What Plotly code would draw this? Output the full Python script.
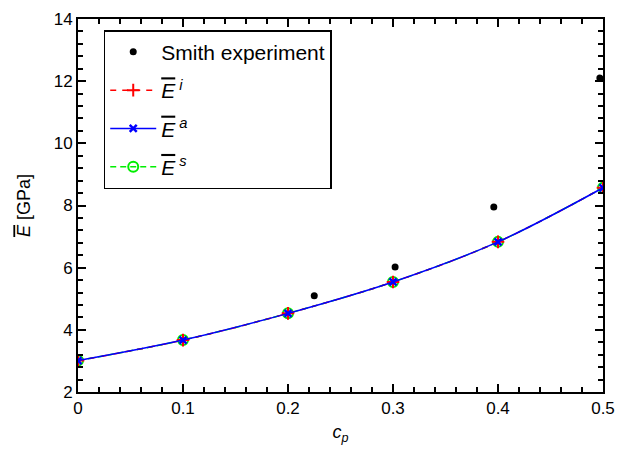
import plotly.graph_objects as go

# Smith experimental data
cp_smith = [0.225, 0.302, 0.396, 0.497]
E_smith = [5.1, 6.02, 7.95, 12.1]

# Model predictions at sampled particle fractions
cp_model = [0.0, 0.1, 0.2, 0.3, 0.4, 0.5]
E_i = [3.01, 3.67, 4.53, 5.54, 6.83, 8.57]
E_a = [3.01, 3.67, 4.53, 5.54, 6.83, 8.57]
E_s = [3.01, 3.67, 4.53, 5.54, 6.83, 8.57]

x_range = [0, 0.5]
y_range = [2, 14]
x_step, y_step = 0.1, 2

FONT = "Liberation Sans, Arial, sans-serif"
EBAR = '<span style="text-decoration:overline"><i>E</i></span>'

fig = go.Figure()

fig.add_trace(go.Scatter(
    x=cp_smith, y=E_smith, mode="markers", name="Smith experiment",
    marker=dict(symbol="circle", size=7, color="black"),
    legendgroup="g0", legendrank=1,
))
fig.add_trace(go.Scatter(
    x=cp_model, y=E_s, mode="lines+markers",
    name=EBAR + "<sup><i> s</i></sup>",
    line=dict(color="#00ee00", width=1.5, dash="6px,4px", shape="spline"),
    marker=dict(symbol="circle-open", size=10, color="#00ee00", line=dict(width=2)),
    legendgroup="g3", legendrank=4,
))
fig.add_trace(go.Scatter(
    x=cp_model, y=E_i, mode="lines+markers",
    name=EBAR + "<sup><i> i</i></sup>",
    line=dict(color="#ff0000", width=1.5, dash="6px,6px", shape="spline"),
    marker=dict(symbol="cross-thin-open", size=9, color="#ff0000", line=dict(width=2, color="#ff0000")),
    legendgroup="g1", legendrank=2,
))
fig.add_trace(go.Scatter(
    x=cp_model, y=E_a, mode="lines+markers",
    name=EBAR + "<sup><i> a</i></sup>",
    line=dict(color="#0000ff", width=1.5, shape="spline"),
    marker=dict(symbol="x-thin-open", size=7, color="#0000ff", line=dict(width=2.5, color="#0000ff")),
    legendgroup="g2", legendrank=3,
))

fig.update_xaxes(
    range=x_range, tickmode="linear", tick0=0, dtick=x_step,
    ticks="inside", ticklen=8, tickwidth=1.5, tickcolor="#000000",
    minor=dict(ticks="inside", ticklen=5, tickwidth=1.5, tickcolor="#000000", dtick=0.02, tick0=0, showgrid=False),
    showline=True, linecolor="black", linewidth=2, mirror="allticks",
    showgrid=False, zeroline=False,
    tickfont=dict(family=FONT, size=17, color="black"),
    title=dict(text="<i>c<sub>p</sub></i>", font=dict(family=FONT, size=18, color="black"), standoff=8),
)
fig.update_yaxes(
    range=y_range, tickmode="linear", tick0=2, dtick=y_step,
    ticks="inside", ticklen=8, tickwidth=1.5, tickcolor="#000000",
    minor=dict(ticks="inside", ticklen=5, tickwidth=1.5, tickcolor="#000000", dtick=0.4, tick0=2, showgrid=False),
    showline=True, linecolor="black", linewidth=2, mirror="allticks",
    showgrid=False, zeroline=False,
    tickfont=dict(family=FONT, size=17, color="black"),
    title=dict(text=EBAR + " [GPa]", font=dict(family=FONT, size=18, color="black"), standoff=18),
)

fig.update_layout(
    width=625, height=456,
    margin=dict(l=78, r=15, t=10, b=64),
    plot_bgcolor="white", paper_bgcolor="white",
    font=dict(family=FONT, color="black"),
    legend=dict(
        x=0.049, y=0.97, xanchor="left", yanchor="top",
        bordercolor="black", borderwidth=1.5, bgcolor="white",
        font=dict(family=FONT, size=21, color="black"),
        tracegroupgap=8, itemwidth=46,
    ),
)

fig.write_html("out.html")
